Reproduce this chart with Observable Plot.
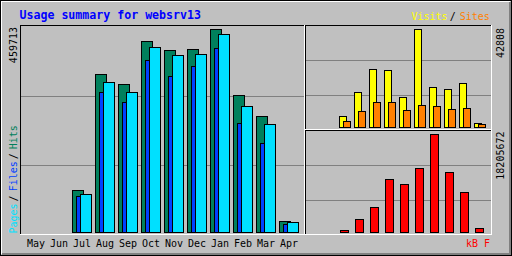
<!DOCTYPE html>
<html><head><meta charset="utf-8">
<script src="https://cdn.jsdelivr.net/npm/d3@7"></script>
<script src="https://cdn.jsdelivr.net/npm/@observablehq/plot@0.6"></script>
<style>
html,body{margin:0;padding:0;background:#fff;}
#chart{position:relative;width:512px;height:256px;background:#C0C0C0;overflow:hidden;}
#chart svg{position:absolute;left:0;top:0;}
.ln{position:absolute;}
</style></head><body><div id="chart"></div>
<script>
const title = "Usage summary for websrv13";
const months = ["May","Jun","Jul","Aug","Sep","Oct","Nov","Dec","Jan","Feb","Mar","Apr"];
const hits   = [0,0,95113,357807,335161,432539,412157,414422,459713,310250,262694,24911];
const files  = [0,0,81526,317044,294398,389511,353278,375924,416686,246841,201549,18117];
const pages  = [0,0,86055,339690,317044,418951,400834,403099,448390,285340,244577,22646];
const visits = [0,0,4805,15288,25335,24898,13104,42808,17472,16599,19219,1747];
const sites  = [0,0,2621,6989,10920,10920,7426,9610,9173,7862,8299,1310];
const kbytes = [0,0,371544,2415036,4644300,9845916,8917056,11889408,18205672,11146320,7430880,743088];
const mainSeries = ["Pages","Files","Hits"];
const rightSeries = ["Visits","Sites"];
const kbLabel = "kB F";

const C = {hits:"#00805C", files:"#0040FF", pages:"#00E0FF", visits:"#FFFF00", sites:"#FF8000", kb:"#FF0000", grid:"#808080", title:"#0000FF"};
const root = document.getElementById("chart");
function line(x,y,w,h,c){const d=document.createElement("div");d.className="ln";Object.assign(d.style,{left:x+"px",top:y+"px",width:w+"px",height:h+"px",background:c});root.appendChild(d);}
// outer bevel
line(0,0,512,1,"#000");line(0,255,512,1,"#000");line(0,0,1,256,"#000");line(511,0,1,256,"#000");
line(1,1,509,1,"#fff");line(1,1,1,253,"#fff");
line(509,2,2,253,"#808080");line(2,253,509,2,"#808080");
// panels
function panel(x1,y1,x2,y2){line(x1,y1,x2-x1+1,1,"#000");line(x1,y1,1,y2-y1+1,"#000");line(x1,y2,x2-x1+1,1,"#fff");line(x2,y1,1,y2-y1+1,"#fff");}
panel(20,25,304,234);
panel(305,25,491,129);
panel(305,130,491,234);

const data = months.map((m,i)=>({month:m,hits:hits[i],files:files[i],pages:pages[i],visits:visits[i],sites:sites[i],kbytes:kbytes[i]}));
const common = {width:512,height:256,style:{background:"transparent",fontFamily:"DejaVu Sans Mono",fontSize:"10px",overflow:"visible",shapeRendering:"crispEdges"}};

const mainTop = d3.max(hits)*(232.5-25)/(232.5-29.5);
const mainPlot = Plot.plot({
  ...common,
  marginTop:25, marginBottom:23, marginLeft:21, marginRight:208,
  x:{type:"band", domain:months, range:[25,301], padding:0, round:false, label:null},
  y:{domain:[0,mainTop], range:[232.5,25], axis:null},
  marks:[
    Plot.ruleY([0.3229*mainTop,0.6602*mainTop],{stroke:C.grid}),
    Plot.barY(data,{filter:d=>d.hits>0,x:"month",y:"hits",fill:C.hits,stroke:"#000",insetLeft:1.5,insetRight:10.5}),
    Plot.barY(data,{filter:d=>d.files>0,x:"month",y:"files",fill:C.files,stroke:"#000",insetLeft:5.5,insetRight:13.5}),
    Plot.barY(data,{filter:d=>d.pages>0,x:"month",y:"pages",fill:C.pages,stroke:"#000",insetLeft:9.5,insetRight:2.5}),
    Plot.axisX({anchor:"bottom",label:null,tickSize:0,tickPadding:6,textAnchor:"start",dx:-10,fill:"#000"})
  ]
});
root.appendChild(mainPlot);

const vTop = d3.max(visits)*(127.5-25)/(127.5-29.5);
const vsPlot = Plot.plot({
  ...common,
  marginTop:25, marginBottom:127, marginLeft:306, marginRight:21,
  x:{type:"band", domain:months, range:[308,488], padding:0, round:false, axis:null},
  y:{domain:[0,vTop], range:[127.5,25], axis:null},
  marks:[
    Plot.ruleY([0.3122*vTop,0.6537*vTop],{stroke:C.grid}),
    Plot.barY(data,{filter:d=>d.visits>0,x:"month",y:"visits",fill:C.visits,stroke:"#000",insetLeft:1.5,insetRight:6.5}),
    Plot.barY(data,{filter:d=>d.sites>0,x:"month",y:"sites",fill:C.sites,stroke:"#000",insetLeft:5.5,insetRight:2.5})
  ]
});
root.appendChild(vsPlot);

const kTop = d3.max(kbytes)*(232.5-130)/(232.5-134.5);
const kbPlot = Plot.plot({
  ...common,
  marginTop:130, marginBottom:22, marginLeft:306, marginRight:21,
  x:{type:"band", domain:months, range:[308,488], padding:0, round:false, axis:null},
  y:{domain:[0,kTop], range:[232.5,130], axis:null},
  marks:[
    Plot.ruleY([0.3122*kTop,0.6537*kTop],{stroke:C.grid}),
    Plot.barY(data,{filter:d=>d.kbytes>0,x:"month",y:"kbytes",fill:C.kb,stroke:"#000",insetLeft:2.5,insetRight:4.5})
  ]
});
root.appendChild(kbPlot);

// texts
const svg = d3.select(root).append("svg").attr("width",512).attr("height",256)
  .attr("font-family","DejaVu Sans Mono").attr("font-size",10);
svg.append("text").attr("x",19.5).attr("y",19).attr("font-size",11.6).attr("font-weight","bold").attr("fill",C.title).text(title);
const vs = svg.append("text").attr("x",411.5).attr("y",20);
vs.append("tspan").attr("fill",C.visits).text(rightSeries[0]);
vs.append("tspan").attr("dx",2).attr("fill","#000").text("/");
vs.append("tspan").attr("dx",4).attr("fill",C.sites).text(rightSeries[1]);

svg.append("text").attr("transform","translate(17,27) rotate(-90)").attr("text-anchor","end").attr("fill","#000").text(String(d3.max(hits)));
const pfh = svg.append("text").attr("transform","translate(17,233.5) rotate(-90)");
pfh.append("tspan").attr("fill",C.pages).text(mainSeries[0]);
pfh.append("tspan").attr("dx",2).attr("fill","#000").text("/");
pfh.append("tspan").attr("dx",4).attr("fill",C.files).text(mainSeries[1]);
pfh.append("tspan").attr("dx",2).attr("fill","#000").text("/");
pfh.append("tspan").attr("dx",4).attr("fill",C.hits).text(mainSeries[2]);

svg.append("text").attr("transform","translate(504,28) rotate(-90)").attr("text-anchor","end").attr("fill","#000").text(String(d3.max(visits)));
svg.append("text").attr("transform","translate(504,131.5) rotate(-90)").attr("text-anchor","end").attr("fill","#000").text(String(d3.max(kbytes)));
svg.append("text").attr("x",466).attr("y",247).attr("fill",C.kb).text(kbLabel);
</script></body></html>
